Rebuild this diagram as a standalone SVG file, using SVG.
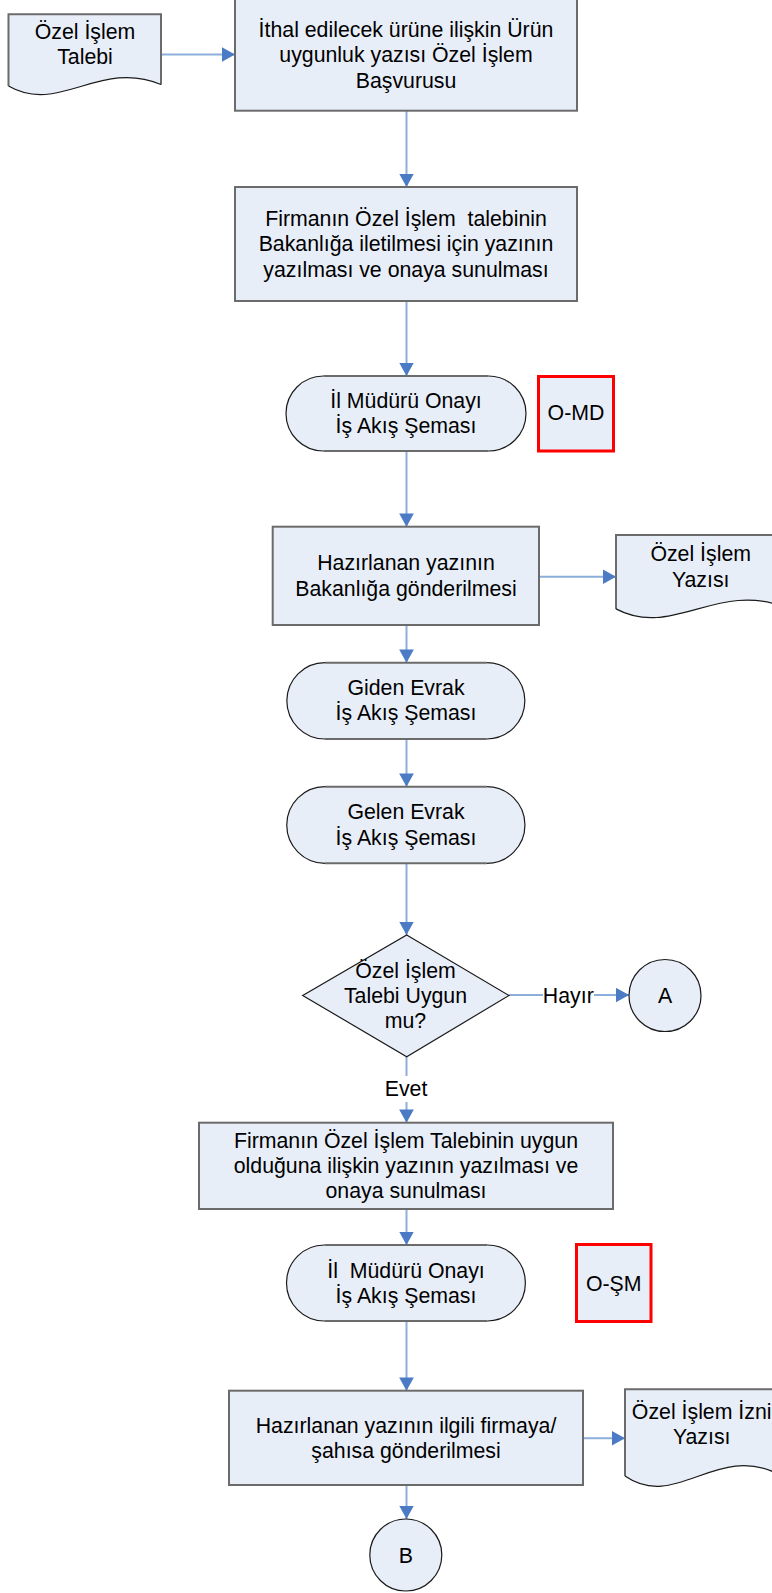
<svg xmlns="http://www.w3.org/2000/svg" width="772" height="1593" viewBox="0 0 772 1593">
<style>
.bg{fill:#ffffff}
.box{fill:#e8eef8;stroke:#6b6b6b;stroke-width:2}
.fill{fill:#e8eef8;stroke:none}
.edge{fill:none;stroke:#6b6b6b;stroke-width:2}
.arc{fill:none;stroke:#1a1a1a;stroke-width:1.2}
.thin{fill:#e8eef8;stroke:#1a1a1a;stroke-width:1.2}
.ref{fill:#e8eef8;stroke:#ff0000;stroke-width:3}
.t{font-family:"Liberation Sans",Arial,sans-serif;font-size:21.3px;fill:#000;text-anchor:middle;white-space:pre}
.c{fill:none;stroke:#8caedb;stroke-width:2}
</style>
<defs>
<marker id="ah" markerUnits="userSpaceOnUse" markerWidth="14" markerHeight="15" refX="13.3" refY="7.35" orient="auto">
<path d="M0,0 L13.3,7.35 L0,14.7 Z" fill="#4a7bc4"/>
</marker>
</defs>
<rect class="bg" x="0" y="0" width="772" height="1593"/>

<g id="connectors">
<line class="c" x1="161" y1="54.5" x2="235" y2="54.5" marker-end="url(#ah)"/>
<line class="c" x1="406.5" y1="110.7" x2="406.5" y2="187" marker-end="url(#ah)"/>
<line class="c" x1="406.5" y1="301" x2="406.5" y2="376" marker-end="url(#ah)"/>
<line class="c" x1="406.5" y1="451" x2="406.5" y2="526.7" marker-end="url(#ah)"/>
<line class="c" x1="539" y1="576.7" x2="616" y2="576.7" marker-end="url(#ah)"/>
<line class="c" x1="406.5" y1="625" x2="406.5" y2="662.7" marker-end="url(#ah)"/>
<line class="c" x1="406.5" y1="739" x2="406.5" y2="786.7" marker-end="url(#ah)"/>
<line class="c" x1="406.5" y1="863.3" x2="406.5" y2="935" marker-end="url(#ah)"/>
<line class="c" x1="509" y1="995" x2="543" y2="995"/>
<line class="c" x1="594" y1="995" x2="629" y2="995" marker-end="url(#ah)"/>
<text class="t" x="568.3" y="1002.5">Hayır</text>
<line class="c" x1="406.5" y1="1056.7" x2="406.5" y2="1076"/>
<line class="c" x1="406.5" y1="1102" x2="406.5" y2="1122.7" marker-end="url(#ah)"/>
<text class="t" x="406" y="1095.8">Evet</text>
<line class="c" x1="406.5" y1="1209" x2="406.5" y2="1245" marker-end="url(#ah)"/>
<line class="c" x1="406.5" y1="1321" x2="406.5" y2="1390.7" marker-end="url(#ah)"/>
<line class="c" x1="583" y1="1438.3" x2="625" y2="1438.3" marker-end="url(#ah)"/>
<line class="c" x1="406.5" y1="1485" x2="406.5" y2="1519" marker-end="url(#ah)"/>
</g>

<g id="doc-talep">
<path class="fill" d="M8.5,14.3 H161 V84.5 C100,58.7 58.8,115.2 8.5,86.1 Z"/>
<path class="edge" d="M8.5,86.1 V14.3 H161 V84.5"/>
<path class="arc" d="M161,84.5 C100,58.7 58.8,115.2 8.5,86.1"/>
<text class="t" x="85" y="39">Özel İşlem</text>
<text class="t" x="85" y="64">Talebi</text>
</g>

<g id="box-basvuru">
<rect class="box" x="235" y="-2" width="342" height="112.7"/>
<text class="t" x="406" y="37">İthal edilecek ürüne ilişkin Ürün</text>
<text class="t" x="406" y="62.3">uygunluk yazısı Özel İşlem</text>
<text class="t" x="406" y="87.6">Başvurusu</text>
</g>

<g id="box-yazi">
<rect class="box" x="235" y="187" width="342" height="114"/>
<text class="t" x="406" y="226">Firmanın Özel İşlem  talebinin</text>
<text class="t" x="406" y="251.3">Bakanlığa iletilmesi için yazının</text>
<text class="t" x="406" y="276.6">yazılması ve onaya sunulması</text>
</g>

<g id="term-onay1">
<path class="fill" d="M323.5,376 H488.5 A37.5,37.5 0 0 1 488.5,451 H323.5 A37.5,37.5 0 0 1 323.5,376 Z"/>
<path class="edge" d="M323.5,376 H488.5 M323.5,451 H488.5"/>
<path class="arc" d="M488.5,376 A37.5,37.5 0 0 1 488.5,451 M323.5,451 A37.5,37.5 0 0 1 323.5,376"/>
<text class="t" x="406" y="407.5">İl Müdürü Onayı</text>
<text class="t" x="406" y="433">İş Akış Şeması</text>
</g>

<g id="ref-omd">
<rect class="ref" x="538.5" y="376.5" width="75" height="74.5"/>
<text class="t" x="576" y="420">O-MD</text>
</g>

<g id="box-gonder1">
<rect class="box" x="272.7" y="526.7" width="266.3" height="98.3"/>
<text class="t" x="406" y="570">Hazırlanan yazının</text>
<text class="t" x="406" y="596">Bakanlığa gönderilmesi</text>
</g>

<g id="doc-yazi">
<path class="fill" d="M616,535 H785 V607.2 C717.4,580.7 671.8,638.8 616,608.9 Z"/>
<path class="edge" d="M616,608.9 V535 H785"/>
<path class="arc" d="M785,607.2 C717.4,580.7 671.8,638.8 616,608.9"/>
<text class="t" x="700.7" y="561">Özel İşlem</text>
<text class="t" x="700.7" y="587">Yazısı</text>
</g>

<g id="term-giden">
<path class="fill" d="M325,662.7 H486.7 A38.15,38.15 0 0 1 486.7,739 H325 A38.15,38.15 0 0 1 325,662.7 Z"/>
<path class="edge" d="M325,662.7 H486.7 M325,739 H486.7"/>
<path class="arc" d="M486.7,662.7 A38.15,38.15 0 0 1 486.7,739 M325,739 A38.15,38.15 0 0 1 325,662.7"/>
<text class="t" x="406" y="695">Giden Evrak</text>
<text class="t" x="406" y="720.3">İş Akış Şeması</text>
</g>

<g id="term-gelen">
<path class="fill" d="M325,786.7 H486.7 A38.3,38.3 0 0 1 486.7,863.3 H325 A38.3,38.3 0 0 1 325,786.7 Z"/>
<path class="edge" d="M325,786.7 H486.7 M325,863.3 H486.7"/>
<path class="arc" d="M486.7,786.7 A38.3,38.3 0 0 1 486.7,863.3 M325,863.3 A38.3,38.3 0 0 1 325,786.7"/>
<text class="t" x="406" y="819">Gelen Evrak</text>
<text class="t" x="406" y="844.5">İş Akış Şeması</text>
</g>

<g id="decision">
<path class="thin" d="M406.7,935 L509,995.5 L406.7,1056.7 L302.7,995.5 Z"/>
<text class="t" x="405.5" y="977.5">Özel İşlem</text>
<text class="t" x="405.5" y="1002.8">Talebi Uygun</text>
<text class="t" x="405.5" y="1028">mu?</text>
</g>

<g id="conn-a">
<circle class="thin" cx="665" cy="995.5" r="36"/>
<text class="t" x="665" y="1003">A</text>
</g>

<g id="box-uygun">
<rect class="box" x="199" y="1122.7" width="414" height="86.3"/>
<text class="t" x="406" y="1147.5">Firmanın Özel İşlem Talebinin uygun</text>
<text class="t" x="406" y="1172.8">olduğuna ilişkin yazının yazılması ve</text>
<text class="t" x="406" y="1198.2">onaya sunulması</text>
</g>

<g id="term-onay2">
<path class="fill" d="M324.5,1245 H487.4 A38,38 0 0 1 487.4,1321 H324.5 A38,38 0 0 1 324.5,1245 Z"/>
<path class="edge" d="M324.5,1245 H487.4 M324.5,1321 H487.4"/>
<path class="arc" d="M487.4,1245 A38,38 0 0 1 487.4,1321 M324.5,1321 A38,38 0 0 1 324.5,1245"/>
<text class="t" x="406" y="1277.5">İl  Müdürü Onayı</text>
<text class="t" x="406" y="1302.8">İş Akış Şeması</text>
</g>

<g id="ref-osm">
<rect class="ref" x="576.5" y="1244.5" width="74.5" height="77"/>
<text class="t" x="613.7" y="1291">O-ŞM</text>
</g>

<g id="box-gonder2">
<rect class="box" x="229" y="1390.7" width="354" height="94.3"/>
<text class="t" x="406" y="1432.5">Hazırlanan yazının ilgili firmaya/</text>
<text class="t" x="406" y="1457.8">şahısa gönderilmesi</text>
</g>

<g id="doc-izin">
<path class="fill" d="M625,1389.3 H778 V1474 C716.8,1442.9 675.5,1511 625,1476 Z"/>
<path class="edge" d="M625,1476 V1389.3 H778"/>
<path class="arc" d="M778,1474 C716.8,1442.9 675.5,1511 625,1476"/>
<text class="t" x="701.7" y="1419.3">Özel İşlem İzni</text>
<text class="t" x="701.7" y="1444.3">Yazısı</text>
</g>

<g id="conn-b">
<circle class="thin" cx="405.8" cy="1555" r="36"/>
<text class="t" x="405.8" y="1562.5">B</text>
</g>
</svg>
